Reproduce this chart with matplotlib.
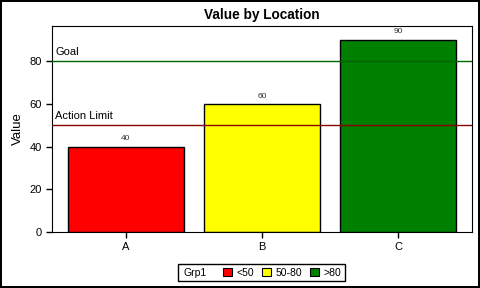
import matplotlib
matplotlib.use("Agg")
import matplotlib.pyplot as plt
from matplotlib.patches import Patch, Rectangle

plt.rcParams['font.family'] = ['Liberation Sans', 'DejaVu Sans']

locations = ['A', 'B', 'C']
values = [40, 60, 90]
groups = ['<50', '50-80', '>80']
colors = ['#ff0000', '#ffff00', '#008000']
goal = 80
action_limit = 50

fig = plt.figure(figsize=(4.8, 2.88), dpi=100)
fig.patch.set_edgecolor('black')
fig.patch.set_linewidth(1.5)
ax = fig.add_axes([52 / 480, 1 - 232 / 288, 420 / 480, 206 / 288])

x = range(len(locations))
ax.bar(x, values, width=0.853, color=colors, edgecolor='black', linewidth=1, zorder=2)
for xi, v in zip(x, values):
    ax.text(xi, v + 2, str(v), ha='center', va='bottom', fontsize=6, color='#333333')

ax.axhline(goal, color='#006400', linewidth=1, zorder=3)
ax.axhline(action_limit, color='#8b0000', linewidth=1, zorder=3)
ax.text(-0.52, goal + 2, 'Goal', fontsize=8, va='bottom', ha='left')
ax.text(-0.52, action_limit + 2, 'Action Limit', fontsize=8, va='bottom', ha='left')

ax.set_xlim(-0.544, 2.544)
ax.set_ylim(0, 96.4)
ax.set_xticks(list(x))
ax.set_xticklabels(locations)
ax.set_yticks([0, 20, 40, 60, 80])
ax.tick_params(labelsize=8, length=4, width=1)
ax.set_ylabel('Value', fontsize=9.5)
ax.set_title('Value by Location', fontsize=9.8, fontweight='bold', pad=5)

# legend: "Grp1" label inline, then the three group swatches, all in one box
ly = 1 - 272.5 / 288
fig.text(183 / 480, ly, 'Grp1', fontsize=7.5, va='center', ha='left')
handles = [Patch(facecolor=c, edgecolor='black', linewidth=0.8) for c in colors]
leg = fig.legend(handles, groups, loc='center left', bbox_to_anchor=(215 / 480, ly),
                 ncol=3, fontsize=7.5, frameon=False,
                 handlelength=0.85, handleheight=0.85, handletextpad=0.4, columnspacing=0.8,
                 borderpad=0.3)
fig.patches.append(Rectangle((178 / 480, 1 - 281 / 288), 167 / 480, 17 / 288,
                             transform=fig.transFigure, fill=False, edgecolor='black',
                             linewidth=1))

fig.savefig('out.png', dpi=100, edgecolor=fig.get_edgecolor())
